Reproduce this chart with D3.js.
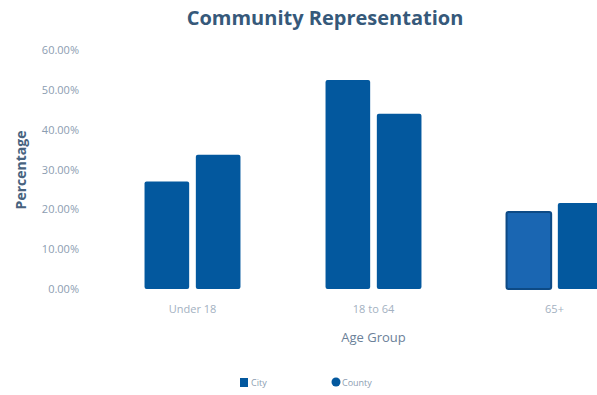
<!DOCTYPE html>
<html>
<head>
<meta charset="utf-8">
<script src="https://cdn.jsdelivr.net/npm/d3@7"></script>
<style>
  body { margin: 0; background: #fff; }
  svg { display: block; font-family: "Open Sans", "DejaVu Sans", sans-serif; }
</style>
</head>
<body>
<svg id="chart" width="597" height="395"></svg>
<script>
const ageGroups = ["Under 18", "18 to 64", "65+"];
const seriesNames = ["City", "County"];
const cityValues = [27.0, 52.5, 19.3];
const countyValues = [33.7, 44.0, 21.6];
const yTicks = [0, 10, 20, 30, 40, 50, 60];

const barColor = "#03589e";

function drawChart() {
    const svg = d3.select("#chart");
    svg.selectAll("*").remove();

    const plot = {left: 102, right: 645, top: 50, bottom: 289};

    const rows = ageGroups.map((g, i) => ({group: g, values: [cityValues[i], countyValues[i]]}));

    const x0 = d3.scaleBand().domain(ageGroups).range([plot.left, plot.right]).paddingInner(0.47).paddingOuter(0.235);
    const x1 = d3.scaleBand().domain(seriesNames).range([0, x0.bandwidth()]).paddingInner(0.13);
    const y = d3.scaleLinear().domain([0, 60]).range([plot.bottom, plot.top]);

    // title
    svg.append("text").attr("x", 325).attr("y", 25).attr("text-anchor", "middle")
        .attr("fill", "#36597a").attr("font-size", "20px").attr("font-weight", "bold")
        .text("Community Representation");

    // y axis (labels only)
    const yAxis = svg.append("g").attr("transform", `translate(${plot.left - 20}, 0)`)
        .call(d3.axisLeft(y).tickValues(yTicks).tickSize(0).tickFormat(d => d.toFixed(2) + "%"));
    yAxis.select(".domain").remove();
    yAxis.selectAll("text").attr("fill", "#8c9db1").attr("font-size", "11px")
        .attr("font-family", "\"Open Sans\", sans-serif");

    svg.append("text").attr("transform", "rotate(-90)").attr("x", -170).attr("y", 26)
        .attr("text-anchor", "middle").attr("fill", "#48637f").attr("font-size", "14px")
        .attr("font-weight", "bold").text("Percentage");

    // x axis (labels only)
    const xAxis = svg.append("g").attr("transform", `translate(0, ${plot.bottom + 13})`)
        .call(d3.axisBottom(x0).tickSize(0));
    xAxis.select(".domain").remove();
    xAxis.selectAll("text").attr("fill", "#a3b1c1").attr("font-size", "11px")
        .attr("font-family", "\"Open Sans\", sans-serif");

    svg.append("text").attr("x", (plot.left + plot.right) / 2).attr("y", 342)
        .attr("text-anchor", "middle").attr("fill", "#6b8199").attr("font-size", "13px")
        .text("Age Group");

    // bars
    const groups = svg.append("g").selectAll("g").data(rows).enter().append("g")
        .attr("transform", d => `translate(${x0(d.group)}, 0)`);
    groups.selectAll("rect").data(d => d.values.map((v, i) => ({group: d.group, name: seriesNames[i], value: v})))
        .enter().append("rect")
        .attr("x", d => x1(d.name))
        .attr("y", d => y(d.value))
        .attr("width", x1.bandwidth())
        .attr("height", d => y(0) - y(d.value))
        .attr("rx", 2)
        .attr("fill", barColor);

    // the hovered bar in the reference
    groups.selectAll("rect").filter(d => d.group === "65+" && d.name === "City")
        .attr("fill", "#1a66b2").attr("stroke", "#0d4a85").attr("stroke-width", 2);

    // legend
    const legend = svg.append("g").attr("transform", "translate(240, 383)");
    legend.append("rect").attr("x", 0).attr("y", -5).attr("width", 8).attr("height", 9).attr("fill", barColor);
    legend.append("text").attr("x", 11).attr("y", 3).attr("fill", "#8c9db1").attr("font-size", "9px").text(seriesNames[0]);
    legend.append("circle").attr("cx", 96).attr("cy", -1).attr("r", 4.5).attr("fill", barColor);
    legend.append("text").attr("x", 102).attr("y", 3).attr("fill", "#8c9db1").attr("font-size", "9px").text(seriesNames[1]);
}

document.addEventListener("DOMContentLoaded", drawChart);
</script>
</body>
</html>
